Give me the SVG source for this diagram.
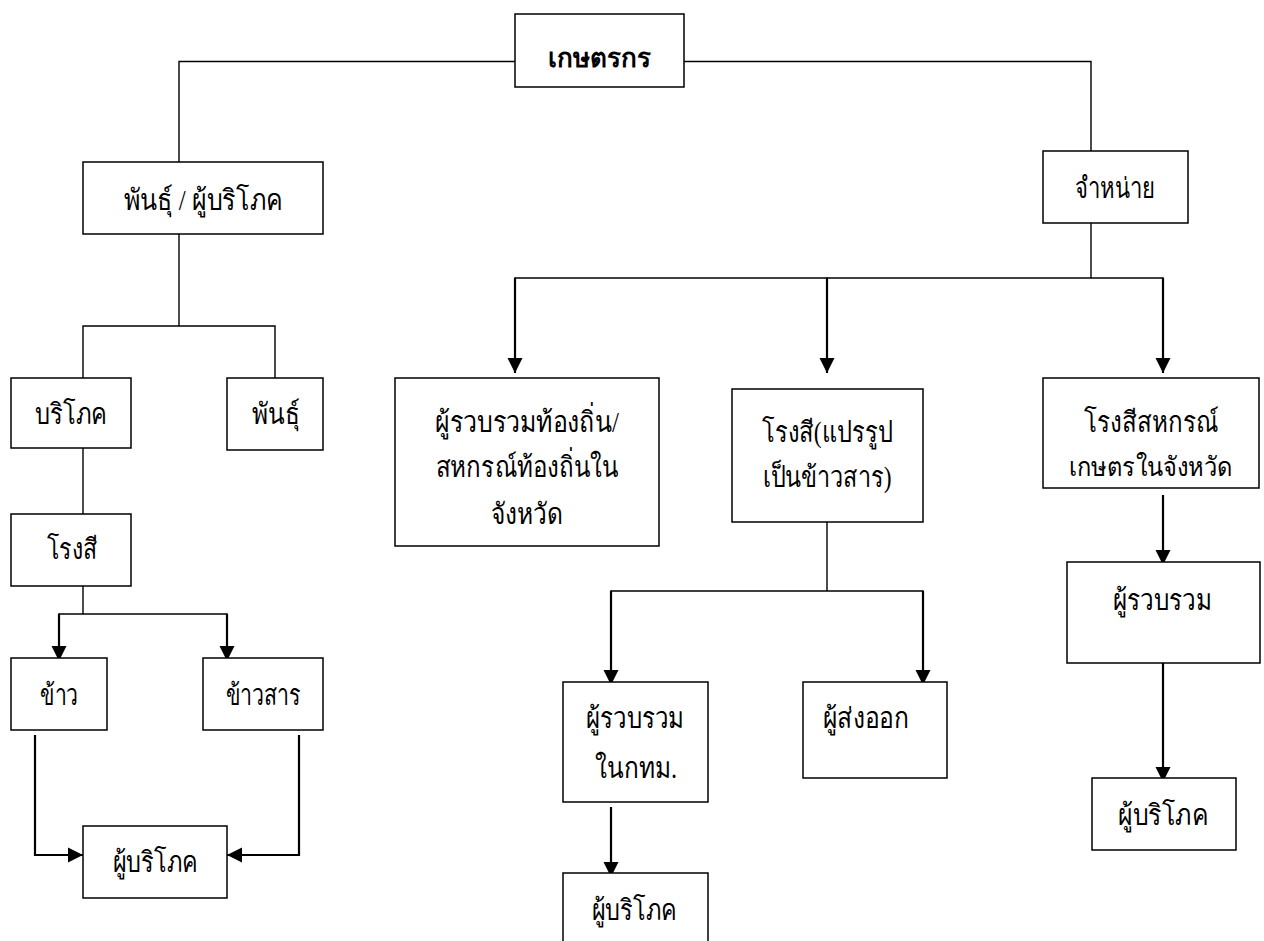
<svg xmlns="http://www.w3.org/2000/svg" width="1264" height="941" viewBox="0 0 1264 941">
<defs>
<style>
.box{fill:#fff;stroke:#000;stroke-width:1.5}
.ln{fill:none;stroke:#000;stroke-width:1.4}
.ar{fill:none;stroke:#000;stroke-width:2.2;marker-end:url(#ah)}
text{font-family:"Liberation Serif","DejaVu Serif",serif;font-size:29px;fill:#000;text-anchor:middle}
.b{font-weight:bold;font-family:"DejaVu Sans","Liberation Sans",sans-serif;font-size:26px}
.s{font-size:27px}
</style>
<marker id="ah" markerUnits="userSpaceOnUse" markerWidth="16" markerHeight="16" viewBox="0 0 16 16" refX="15" refY="8" orient="auto">
<path d="M0,0.5 L15,8 L0,15.5 Z" fill="#000"/>
</marker>
</defs>
<rect width="1264" height="941" fill="#fff"/>
<g id="connectors">
<polyline class="ln" points="515,61.5 179,61.5 179,162"/>
<polyline class="ln" points="684,61.5 1091,61.5 1091,151"/>
<line class="ln" x1="179" y1="234" x2="179" y2="326"/>
<polyline class="ln" points="83,378 83,326 275,326 275,378"/>
<line class="ln" x1="83" y1="448" x2="83" y2="514"/>
<line class="ln" x1="83" y1="586" x2="83" y2="614"/>
<polyline class="ln" points="59,614 227,614"/>
<line class="ar" x1="59" y1="613.5" x2="59" y2="661"/>
<line class="ar" x1="227" y1="613.5" x2="227" y2="661"/>
<polyline class="ar" points="35,735 35,855 83,855"/>
<polyline class="ar" points="299,735 299,855 227,855"/>
<line class="ln" x1="1091" y1="223" x2="1091" y2="278"/>
<polyline class="ln" points="515,278 1163,278"/>
<line class="ar" x1="515" y1="277.5" x2="515" y2="373"/>
<line class="ar" x1="827" y1="277.5" x2="827" y2="373"/>
<line class="ar" x1="1163" y1="277.5" x2="1163" y2="373"/>
<line class="ln" x1="827" y1="522" x2="827" y2="591"/>
<polyline class="ln" points="611,591 923,591"/>
<line class="ar" x1="611" y1="590.5" x2="611" y2="685"/>
<line class="ar" x1="923" y1="590.5" x2="923" y2="685"/>
<line class="ar" x1="611" y1="807" x2="611" y2="877"/>
<line class="ar" x1="1163" y1="495" x2="1163" y2="565"/>
<line class="ar" x1="1163" y1="663" x2="1163" y2="782"/>
</g>
<g id="n-farmer"><rect class="box" x="515" y="14" width="169" height="73"/><text class="b" x="599" y="67">เกษตรกร</text></g>
<g id="n-seed-consumer"><rect class="box" x="83" y="162" width="240" height="72"/><text x="203" y="210" textLength="159" lengthAdjust="spacingAndGlyphs">พันธุ์ / ผู้บริโภค</text></g>
<g id="n-sell"><rect class="box" x="1043" y="151" width="145" height="72"/><text x="1115" y="198" textLength="80" lengthAdjust="spacingAndGlyphs">จำหน่าย</text></g>
<g id="n-consume"><rect class="box" x="11" y="378" width="120" height="70"/><text x="71" y="424" textLength="72" lengthAdjust="spacingAndGlyphs">บริโภค</text></g>
<g id="n-seed"><rect class="box" x="227" y="378" width="96" height="72"/><text x="276" y="424" textLength="48" lengthAdjust="spacingAndGlyphs">พันธุ์</text></g>
<g id="n-mill-left"><rect class="box" x="11" y="514" width="120" height="72"/><text x="72" y="559" textLength="51" lengthAdjust="spacingAndGlyphs">โรงสี</text></g>
<g id="n-paddy"><rect class="box" x="11" y="658" width="96" height="72"/><text x="59" y="705" textLength="38" lengthAdjust="spacingAndGlyphs">ข้าว</text></g>
<g id="n-rice"><rect class="box" x="203" y="658" width="120" height="72"/><text x="263" y="705" textLength="75" lengthAdjust="spacingAndGlyphs">ข้าวสาร</text></g>
<g id="n-consumer-left"><rect class="box" x="83" y="826" width="144" height="72"/><text x="155" y="872" textLength="85" lengthAdjust="spacingAndGlyphs">ผู้บริโภค</text></g>
<g id="n-local"><rect class="box" x="395" y="378" width="264" height="168"/><text x="527" y="432" textLength="184" lengthAdjust="spacingAndGlyphs">ผู้รวบรวมท้องถิ่น/</text><text x="527" y="477" textLength="183" lengthAdjust="spacingAndGlyphs">สหกรณ์ท้องถิ่นใน</text><text x="527" y="524" textLength="72" lengthAdjust="spacingAndGlyphs">จังหวัด</text></g>
<g id="n-mill-process"><rect class="box" x="732" y="389" width="191" height="133"/><text x="827" y="442" textLength="131" lengthAdjust="spacingAndGlyphs">โรงสี(แปรรูป</text><text x="827" y="487" textLength="129" lengthAdjust="spacingAndGlyphs">เป็นข้าวสาร)</text></g>
<g id="n-coop-mill"><rect class="box" x="1043" y="378" width="216" height="110"/><text x="1151" y="432" textLength="135" lengthAdjust="spacingAndGlyphs">โรงสีสหกรณ์</text><text class="s" x="1151" y="476" textLength="164" lengthAdjust="spacingAndGlyphs">เกษตรในจังหวัด</text></g>
<g id="n-bkk"><rect class="box" x="563" y="682" width="145" height="120"/><text x="635" y="728" textLength="98" lengthAdjust="spacingAndGlyphs">ผู้รวบรวม</text><text x="636" y="778" textLength="82" lengthAdjust="spacingAndGlyphs">ในกทม.</text></g>
<g id="n-export"><rect class="box" x="803" y="682" width="144" height="96"/><text x="866" y="728" textLength="86" lengthAdjust="spacingAndGlyphs">ผู้ส่งออก</text></g>
<g id="n-consumer-mid"><rect class="box" x="563" y="873" width="145" height="80"/><text x="634" y="920" textLength="85" lengthAdjust="spacingAndGlyphs">ผู้บริโภค</text></g>
<g id="n-collector"><rect class="box" x="1067" y="562" width="193" height="101"/><text x="1162" y="610" textLength="99" lengthAdjust="spacingAndGlyphs">ผู้รวบรวม</text></g>
<g id="n-consumer-right"><rect class="box" x="1092" y="778" width="144" height="72"/><text x="1163" y="825" textLength="90" lengthAdjust="spacingAndGlyphs">ผู้บริโภค</text></g>
</svg>
